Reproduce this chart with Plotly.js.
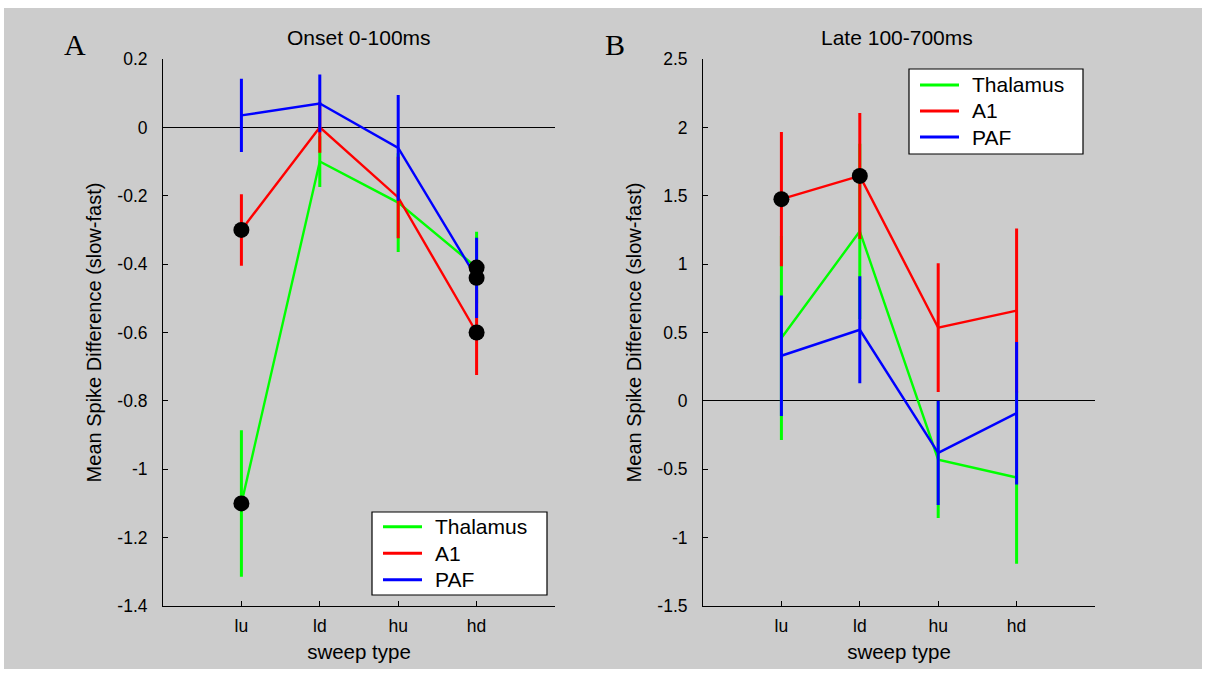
<!DOCTYPE html>
<html>
<head>
<meta charset="utf-8">
<script src="https://cdn.plot.ly/plotly-3.0.1.min.js"></script>
<style>html,body{margin:0;padding:0;background:#fff;}#chart{width:1206px;height:675px;}</style>
</head>
<body>
<div id="chart"></div>
<script>
// ---- data ----
const categories = ['lu', 'ld', 'hu', 'hd'];
const seriesNames = ['Thalamus', 'A1', 'PAF'];
const seriesColors = ['#00ff00', '#ff0000', '#0000ff'];

// Panel A: Onset 0-100ms
const thalOnset    = [-1.10, -0.10, -0.22, -0.41];
const thalOnsetErr = [0.21, 0.07, 0.14, 0.10];
const a1Onset      = [-0.30, 0.00, -0.205, -0.60];
const a1OnsetErr   = [0.10, 0.07, 0.115, 0.12];
const pafOnset     = [0.035, 0.07, -0.06, -0.44];
const pafOnsetErr  = [0.103, 0.08, 0.15, 0.113];
const thalOnsetSig = [1, 0, 0, 1];
const a1OnsetSig   = [1, 0, 0, 1];
const pafOnsetSig  = [0, 0, 0, 1];

// Panel B: Late 100-700ms
const thalLate    = [0.46, 1.24, -0.43, -0.56];
const thalLateErr = [0.735, 0.63, 0.415, 0.62];
const a1Late      = [1.475, 1.645, 0.535, 0.66];
const a1LateErr   = [0.48, 0.45, 0.46, 0.59];
const pafLate     = [0.33, 0.52, -0.38, -0.09];
const pafLateErr  = [0.43, 0.38, 0.37, 0.51];
const thalLateSig = [0, 0, 0, 0];
const a1LateSig   = [1, 1, 0, 0];
const pafLateSig  = [0, 0, 0, 0];

const onsetTicks = [-1.4, -1.2, -1, -0.8, -0.6, -0.4, -0.2, 0, 0.2];
const lateTicks  = [-1.5, -1, -0.5, 0, 0.5, 1, 1.5, 2, 2.5];

const FONT = 'Liberation Sans, Arial, sans-serif';

const panels = [
  {xa: 'x', ya: 'y', vals: [thalOnset, a1Onset, pafOnset],
   errs: [thalOnsetErr, a1OnsetErr, pafOnsetErr], sigs: [thalOnsetSig, a1OnsetSig, pafOnsetSig]},
  {xa: 'x2', ya: 'y2', vals: [thalLate, a1Late, pafLate],
   errs: [thalLateErr, a1LateErr, pafLateErr], sigs: [thalLateSig, a1LateSig, pafLateSig]}
];

const traces = [];
panels.forEach(p => {
  p.vals.forEach((v, i) => {
    traces.push({
      type: 'scatter', mode: 'lines', x: categories, y: v,
      xaxis: p.xa, yaxis: p.ya, name: seriesNames[i], showlegend: false,
      line: {color: seriesColors[i], width: 2.4},
      error_y: {type: 'data', array: p.errs[i], visible: true, color: seriesColors[i], thickness: 3, width: 1.5},
      hoverinfo: 'x+y'
    });
  });
  // significance markers
  const mx = [], my = [];
  p.vals.forEach((v, i) => {
    v.forEach((val, j) => { if (p.sigs[i][j]) { mx.push(categories[j]); my.push(val); } });
  });
  traces.push({
    type: 'scatter', mode: 'markers', x: mx, y: my, xaxis: p.xa, yaxis: p.ya,
    showlegend: false, marker: {color: '#000', size: 16}, hoverinfo: 'x+y'
  });
});

function fmt(t) { return (Math.round(t * 10) / 10).toString(); }

const W = 1206, H = 675;
const px = x => x / W;
const py = y => 1 - y / H;

const axBase = {
  showline: true, linecolor: '#000', linewidth: 1, mirror: false,
  ticks: 'inside', ticklen: 5, tickwidth: 1, tickcolor: '#000',
  showgrid: false, tickfont: {family: FONT, size: 17.5, color: '#000'}
};
const xBase = Object.assign({}, axBase, {
  type: 'category', range: [-1, 4], zeroline: false, fixedrange: true,
  ticklabelstandoff: 4,
  title: {text: 'sweep type', font: {family: FONT, size: 20.5, color: '#000'}, standoff: 9}
});
const yBase = Object.assign({}, axBase, {
  zeroline: true, zerolinecolor: '#000', zerolinewidth: 1.2,
  ticklabelstandoff: 11,
  title: {text: 'Mean Spike Difference (slow-fast)', font: {family: FONT, size: 20, color: '#000'}, standoff: 10}
});

// legend boxes drawn as shapes + text (box geometry in pixels)
const legendBoxes = [
  {x0: 372, x1: 547, y0: 512, y1: 595, rows: [526.7, 553.2, 579.7], lx0: 383, lx1: 422, tx: 433},
  {x0: 909, x1: 1083, y0: 69, y1: 154, rows: [85, 111, 137], lx0: 920, lx1: 959, tx: 970}
];

const shapes = [
  {type: 'rect', xref: 'paper', yref: 'paper', x0: px(4), x1: px(1202), y0: py(669), y1: py(8),
   fillcolor: '#cccccc', line: {width: 0}, layer: 'below'}
];
const annotations = [
  {text: 'Onset 0-100ms', xref: 'paper', yref: 'paper', x: px(359), y: py(38),
   xanchor: 'center', yanchor: 'middle', showarrow: false, font: {family: FONT, size: 21, color: '#000'}},
  {text: 'Late 100-700ms', xref: 'paper', yref: 'paper', x: px(897), y: py(38),
   xanchor: 'center', yanchor: 'middle', showarrow: false, font: {family: FONT, size: 21, color: '#000'}},
  {text: 'A', xref: 'paper', yref: 'paper', x: px(75), y: py(45),
   xanchor: 'center', yanchor: 'middle', showarrow: false, font: {family: 'Liberation Serif, Times New Roman, serif', size: 30, color: '#000'}},
  {text: 'B', xref: 'paper', yref: 'paper', x: px(615), y: py(45),
   xanchor: 'center', yanchor: 'middle', showarrow: false, font: {family: 'Liberation Serif, Times New Roman, serif', size: 30, color: '#000'}}
];

legendBoxes.forEach(b => {
  shapes.push({type: 'rect', xref: 'paper', yref: 'paper', x0: px(b.x0), x1: px(b.x1), y0: py(b.y1), y1: py(b.y0),
    fillcolor: '#ffffff', line: {color: '#000', width: 1.2}, layer: 'above'});
  seriesNames.forEach((name, i) => {
    shapes.push({type: 'line', xref: 'paper', yref: 'paper', x0: px(b.lx0), x1: px(b.lx1), y0: py(b.rows[i]), y1: py(b.rows[i]),
      line: {color: seriesColors[i], width: 3}, layer: 'above'});
    annotations.push({text: name, xref: 'paper', yref: 'paper', x: px(b.tx), y: py(b.rows[i]),
      xanchor: 'left', yanchor: 'middle', showarrow: false, font: {family: FONT, size: 21, color: '#000'}});
  });
});

const layout = {
  width: W, height: H,
  margin: {l: 0, r: 0, t: 0, b: 0},
  paper_bgcolor: '#ffffff', plot_bgcolor: '#ffffff',
  font: {family: FONT, color: '#000'},
  showlegend: false,
  xaxis: Object.assign({}, xBase, {domain: [px(163), px(555)], anchor: 'y'}),
  yaxis: Object.assign({}, yBase, {domain: [py(606), py(59)], anchor: 'x', range: [-1.4, 0.2],
    tickvals: onsetTicks, ticktext: onsetTicks.map(fmt)}),
  xaxis2: Object.assign({}, xBase, {domain: [px(703), px(1095)], anchor: 'y2'}),
  yaxis2: Object.assign({}, yBase, {domain: [py(606), py(59)], anchor: 'x2', range: [-1.5, 2.5],
    tickvals: lateTicks, ticktext: lateTicks.map(fmt)}),
  shapes: shapes,
  annotations: annotations
};

Plotly.newPlot('chart', traces, layout, {displayModeBar: false, staticPlot: true});
</script>
</body>
</html>
